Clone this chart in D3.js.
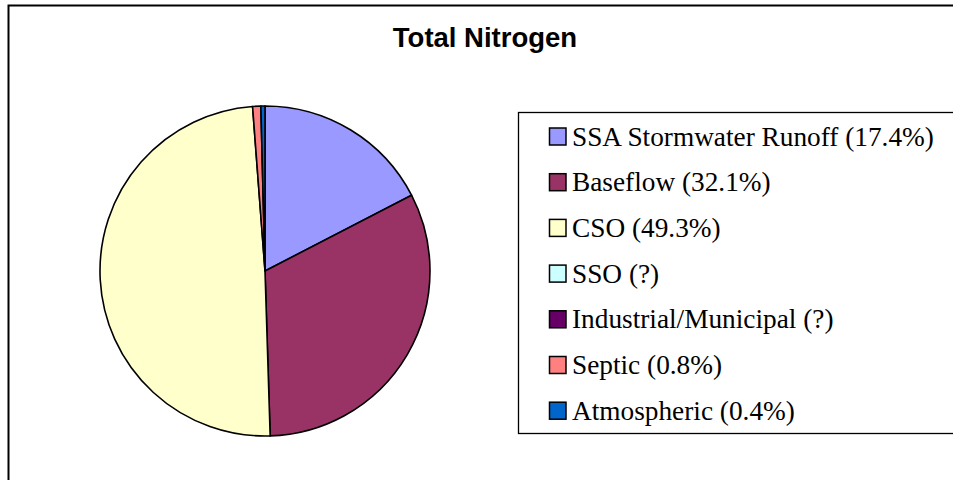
<!DOCTYPE html>
<html>
<head>
<meta charset="utf-8">
<script src="https://cdn.jsdelivr.net/npm/d3@7"></script>
<style>
  html, body { margin: 0; padding: 0; background: #fff; }
  svg { display: block; }
</style>
</head>
<body>
<svg id="chart" width="953" height="480"></svg>
<script>
// Nitrogen load sources, drawn clockwise from 12 o'clock
const categories = ["SSA Stormwater Runoff", "Baseflow", "CSO", "SSO", "Industrial/Municipal", "Septic", "Atmospheric"];
const shares = [17.4, 32.1, 49.3, 0, 0, 0.8, 0.4];
const shareLabels = ["17.4%", "32.1%", "49.3%", "?", "?", "0.8%", "0.4%"];
const colors = ["#9999FF", "#993366", "#FFFFCC", "#CCFFFF", "#660066", "#FF8080", "#0066CC"];

const svg = d3.select("#chart");

// chart area frame
svg.append("rect")
  .attr("x", 8.5).attr("y", 5.5)
  .attr("width", 1000).attr("height", 600)
  .attr("fill", "#fff").attr("stroke", "#000").attr("stroke-width", 2);

svg.append("text")
  .attr("x", 485).attr("y", 47)
  .attr("text-anchor", "middle")
  .attr("font-family", "Liberation Sans, Arial, sans-serif")
  .attr("font-weight", "bold")
  .attr("font-size", 27.5)
  .text("Total Nitrogen");

// pie
const cx = 265, cy = 271, r = 165;
const pie = d3.pie().sort(null).value(d => d.v);
const arc = d3.arc().innerRadius(0).outerRadius(r);
const data = categories.map((c, i) => ({ name: c, v: shares[i], color: colors[i] }));

svg.append("g")
  .attr("transform", `translate(${cx},${cy})`)
  .selectAll("path")
  .data(pie(data).filter(d => d.data.v > 0))
  .join("path")
  .attr("d", arc)
  .attr("fill", d => d.data.color)
  .attr("stroke", "#000")
  .attr("stroke-width", 1.6)
  .attr("stroke-linejoin", "round");

// legend
const legend = svg.append("g");
legend.append("rect")
  .attr("x", 518.5).attr("y", 112.5)
  .attr("width", 500).attr("height", 321)
  .attr("fill", "#fff").attr("stroke", "#000").attr("stroke-width", 1.3);

const y0 = 145.5, step = 45.7;
const rows = legend.selectAll("g.item")
  .data(data)
  .join("g")
  .attr("class", "item")
  .attr("transform", (d, i) => `translate(0,${y0 + i * step})`);

rows.append("rect")
  .attr("x", 549.5).attr("y", -17.5)
  .attr("width", 16.5).attr("height", 17)
  .attr("fill", d => d.color)
  .attr("stroke", "#000").attr("stroke-width", 1.5);

rows.append("text")
  .attr("x", 572).attr("y", 0)
  .attr("font-family", "Liberation Serif, Times New Roman, serif")
  .attr("font-size", 27.3)
  .attr("fill", "#000")
  .text((d, i) => `${d.name} (${shareLabels[i]})`);
</script>
</body>
</html>
